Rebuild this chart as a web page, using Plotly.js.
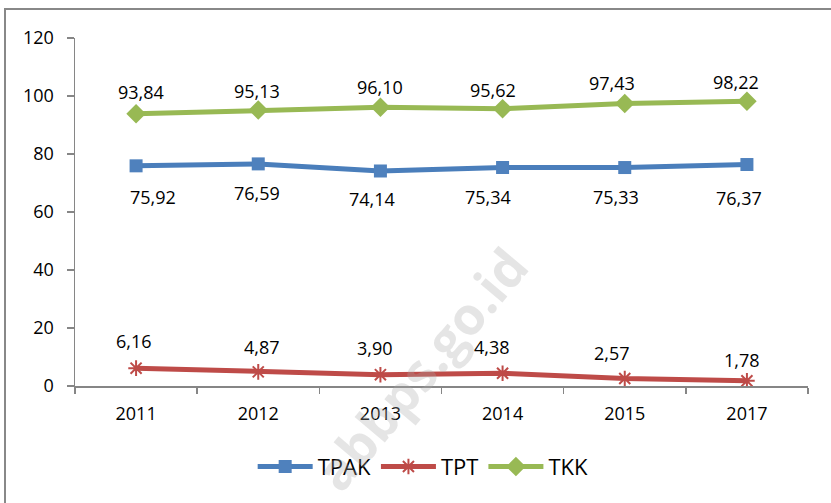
<!DOCTYPE html>
<html>
<head>
<meta charset="utf-8">
<script src="https://cdn.plot.ly/plotly-3.0.1.min.js"></script>
<style>
  html, body { margin: 0; padding: 0; background: #fff; }
  #chart { width: 831px; height: 503px; }
</style>
</head>
<body>
<div id="chart"></div>
<script>
// ---- data ----
const years = ["2011", "2012", "2013", "2014", "2015", "2017"];
const tpak = [75.92, 76.59, 74.14, 75.34, 75.33, 76.37];
const tpt  = [6.16, 4.87, 3.90, 4.38, 2.57, 1.78];
const tkk  = [93.84, 95.13, 96.10, 95.62, 97.43, 98.22];
const yTicks = [0, 20, 40, 60, 80, 100, 120];

// label offsets (styling, px)
const tpakShift = [[17, -31], [-1, -29], [-8, -28], [-15, -29], [-9, -29], [-8, -33]];
const tptShift  = [[-2, 27], [4, 25], [-5, 27], [-11, 26], [-13, 26], [-5, 21]];
const tkkShift  = [[5, 22], [-1, 19], [0, 20], [-10, 19], [-13, 20], [-11, 19]];

const FONT = "'Open Sans', 'Noto Sans', sans-serif";
const fmt = v => v.toFixed(2).replace('.', ',');

function labels(vals, shifts) {
  return vals.map((v, i) => ({
    xref: 'x', yref: 'y',
    x: i, y: v, text: fmt(v), showarrow: false,
    xshift: shifts[i][0], yshift: shifts[i][1],
    font: { family: FONT, size: 18, color: '#000' },
    xanchor: 'center', yanchor: 'middle'
  }));
}

const traces = [
  { name: 'TPAK', x: years, y: tpak, type: 'scatter', mode: 'lines+markers',
    line: { color: '#4A7EBB', width: 5 },
    marker: { symbol: 'square', size: 13, color: '#4F81BD' } },
  { name: 'TPT', x: years, y: tpt, type: 'scatter', mode: 'lines+markers',
    line: { color: '#BE4B48', width: 5 },
    marker: { symbol: 'asterisk-open', size: 13, color: '#BE4B48', line: { color: '#BE4B48', width: 2 } } },
  { name: 'TKK', x: years, y: tkk, type: 'scatter', mode: 'lines+markers',
    line: { color: '#98B954', width: 5 },
    marker: { symbol: 'diamond', size: 15, color: '#98B954' } }
];

const annotations = [].concat(
  labels(tkk, tkkShift), labels(tpak, tpakShift), labels(tpt, tptShift),
  [{ xref: 'paper', yref: 'paper', x: (420 - 75) / 733, y: (386 - 368) / 348,
     xanchor: 'center', yanchor: 'middle', text: '<b>abbps.go.id</b>',
     showarrow: false, textangle: -50, font: { family: FONT, size: 52, color: 'rgba(170,170,170,0.3)' } }]
);

const layout = {
  width: 831, height: 503,
  margin: { l: 75, r: 23, t: 38, b: 117 },
  paper_bgcolor: '#fff', plot_bgcolor: '#fff',
  font: { family: FONT, size: 18, color: '#000' },
  showlegend: true,
  legend: { orientation: 'h', x: 0.475, xanchor: 'center', y: -0.232, yanchor: 'middle',
            font: { family: FONT, size: 22, color: '#000' }, itemwidth: 55, tracegroupgap: 0 },
  xaxis: {
    type: 'category', categoryorder: 'array', categoryarray: years,
    range: [-0.5, 5.5], showgrid: false, zeroline: false,
    showline: true, linecolor: '#868686', linewidth: 1.5,
    ticks: 'outside', tickson: 'boundaries', ticklen: 6, tickcolor: '#868686', tickwidth: 1.5,
    tickfont: { family: FONT, size: 18, color: '#000' }, ticklabelstandoff: 11
  },
  yaxis: {
    range: [0, 120], tickvals: yTicks, ticktext: yTicks.map(String),
    showgrid: false, zeroline: false,
    showline: true, linecolor: '#868686', linewidth: 1.5,
    ticks: 'outside', ticklen: 7, tickcolor: '#868686', tickwidth: 1.5,
    tickfont: { family: FONT, size: 18, color: '#000' }, ticklabelstandoff: 9
  },
  shapes: [
    { type: 'rect', xref: 'paper', yref: 'paper',
      x0: (5 - 75) / 733, x1: (850 - 75) / 733, y0: (386 - 520) / 348, y1: (386 - 9) / 348,
      line: { color: '#888888', width: 2 }, fillcolor: 'rgba(0,0,0,0)', layer: 'below' }
  ],
  annotations: annotations
};

Plotly.newPlot('chart', traces, layout, { displayModeBar: false, staticPlot: true });
</script>
</body>
</html>
